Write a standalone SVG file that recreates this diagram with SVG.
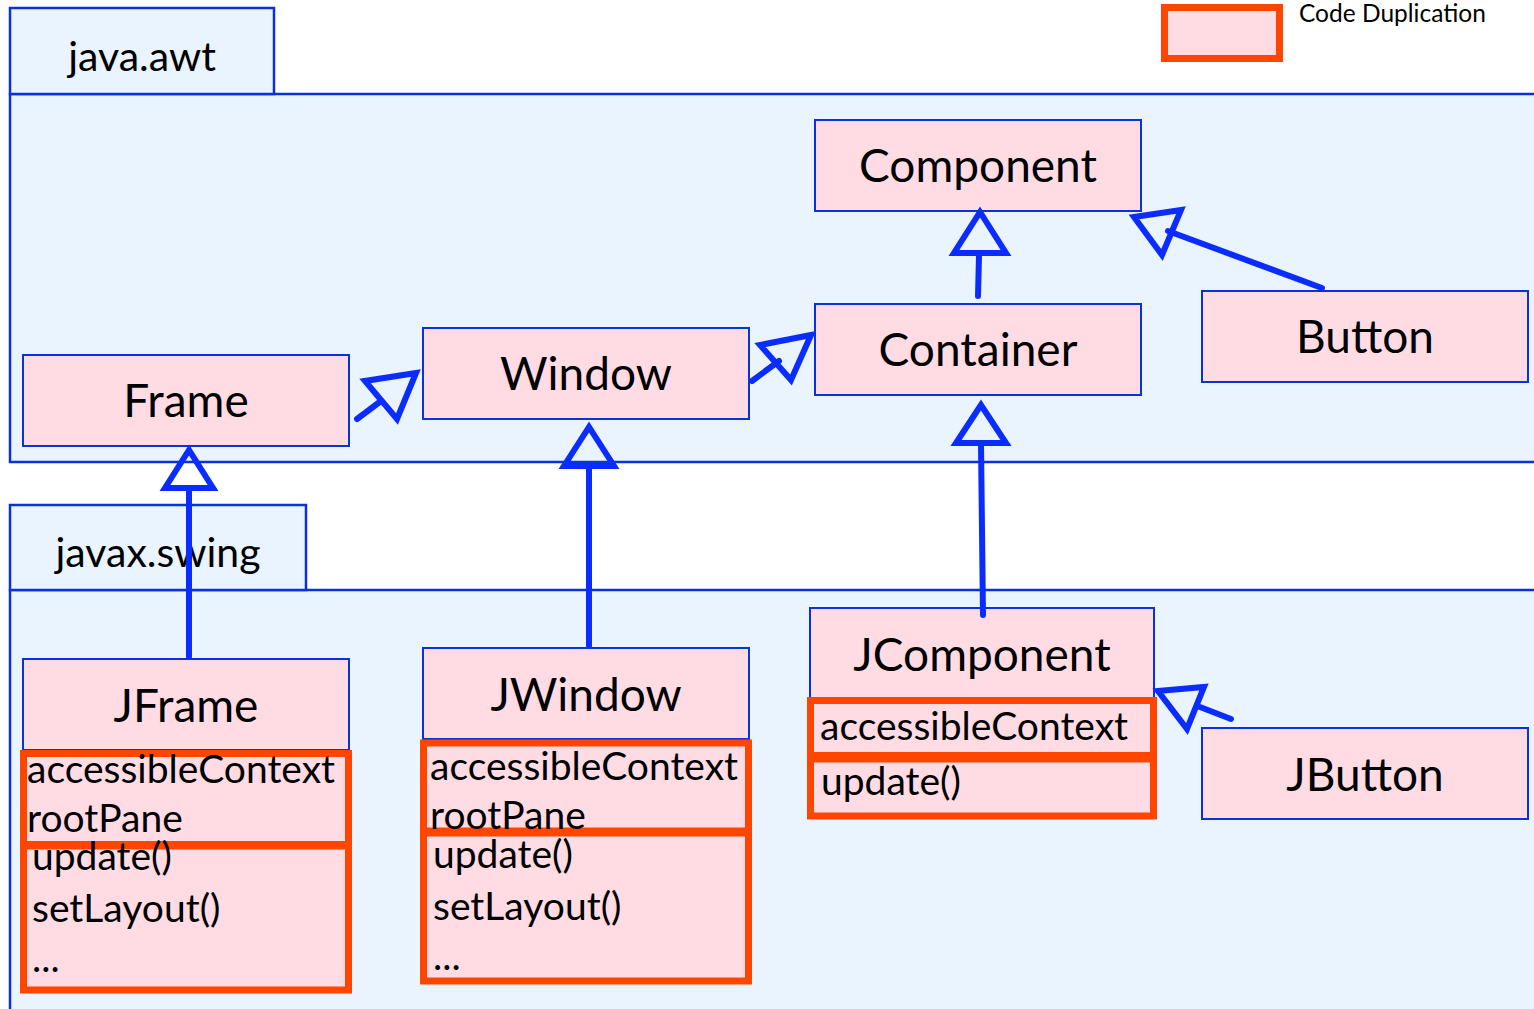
<svg xmlns="http://www.w3.org/2000/svg" width="1534" height="1009" viewBox="0 0 1534 1009">
<style>
.pkg{fill:#e9f4fe;stroke:#0a32d6;stroke-width:2.5}
.cls{fill:#ffdce3;stroke:#0a32d6;stroke-width:2}
.dup{fill:#ffdce3;stroke:#ff4600;stroke-width:7}
.t{font-family:Lato,"Open Sans",sans-serif;fill:#000}
.cn{font-size:46px;text-anchor:middle}
.pn{font-size:41px;text-anchor:middle}
.at{font-size:39px}
.conn line{stroke:#0a2cff;stroke-width:6;stroke-linecap:round}
.conn polygon{fill:none;stroke:#0a2cff;stroke-width:6}
</style>
<rect x="0" y="0" width="1534" height="1009" fill="#fff"/>
<g id="pkg-awt">
<rect class="pkg" x="10" y="94" width="1530" height="368"/>
<rect class="pkg" x="10" y="8" width="264" height="86"/>
<text class="t pn" x="142" y="71">java.awt</text>
</g>
<g id="pkg-swing">
<rect class="pkg" x="10" y="590" width="1530" height="430"/>
<rect class="pkg" x="10" y="505" width="296" height="85"/>
<text class="t pn" x="158" y="567">javax.swing</text>
</g>
<g id="legend">
<rect class="dup" x="1164.5" y="7.5" width="115" height="51"/>
<text class="t" x="1299" y="22" font-size="24.5">Code Duplication</text>
</g>
<g id="Component">
<rect class="cls" x="815" y="120" width="326" height="91"/>
<text class="t cn" x="978" y="182">Component</text>
</g>
<g id="Container">
<rect class="cls" x="815" y="304" width="326" height="91"/>
<text class="t cn" x="978" y="366">Container</text>
</g>
<g id="Button">
<rect class="cls" x="1202" y="291" width="326" height="91"/>
<text class="t cn" x="1365" y="353">Button</text>
</g>
<g id="Frame">
<rect class="cls" x="23" y="355" width="326" height="91"/>
<text class="t cn" x="186" y="417">Frame</text>
</g>
<g id="Window">
<rect class="cls" x="423" y="328" width="326" height="91"/>
<text class="t cn" x="586" y="390">Window</text>
</g>
<g id="JFrame">
<rect class="cls" x="23" y="659" width="326" height="91"/>
<text class="t cn" x="186" y="722">JFrame</text>
<rect class="dup" x="23.5" y="753.5" width="325" height="91"/>
<rect class="dup" x="23.5" y="846" width="325" height="144"/>
<text class="t at" x="27" y="783">accessibleContext</text>
<text class="t at" x="27" y="832">rootPane</text>
<text class="t at" x="32" y="870">update()</text>
<text class="t at" x="32" y="922">setLayout()</text>
<text class="t at" x="32" y="972">...</text>
</g>
<g id="JWindow">
<rect class="cls" x="423" y="648" width="326" height="91"/>
<text class="t cn" x="586" y="711">JWindow</text>
<rect class="dup" x="423.5" y="743" width="325" height="88"/>
<rect class="dup" x="423.5" y="833" width="325" height="148"/>
<text class="t at" x="430" y="780">accessibleContext</text>
<text class="t at" x="430" y="829">rootPane</text>
<text class="t at" x="433" y="868">update()</text>
<text class="t at" x="433" y="920">setLayout()</text>
<text class="t at" x="433" y="970">...</text>
</g>
<g id="JComponent">
<rect class="cls" x="810" y="608" width="344" height="91"/>
<text class="t cn" x="982" y="671">JComponent</text>
<rect class="dup" x="810.5" y="700.5" width="343" height="55"/>
<rect class="dup" x="810.5" y="759" width="343" height="57"/>
<text class="t at" x="820" y="740">accessibleContext</text>
<text class="t at" x="821" y="795">update()</text>
</g>
<g id="JButton">
<rect class="cls" x="1202" y="728" width="326" height="91"/>
<text class="t cn" x="1365" y="791">JButton</text>
</g>
<g id="connectors" class="conn">
<line x1="978" y1="296" x2="979" y2="256"/>
<polygon points="980,212 954,253 1006,253"/>
<line x1="1322" y1="288" x2="1168" y2="231"/>
<polygon points="1134,217 1181,210 1162,255"/>
<line x1="752" y1="381" x2="779" y2="361"/>
<polygon points="811,335 760,345 791,380"/>
<line x1="357" y1="419" x2="381" y2="401"/>
<polygon points="416,373 365,381 397,419"/>
<line x1="189" y1="657" x2="189" y2="489"/>
<polygon points="189,450 165,488 213,488"/>
<line x1="589" y1="646" x2="589" y2="467"/>
<polygon points="589,427 564,466 614,466"/>
<line x1="983" y1="615" x2="981" y2="445"/>
<polygon points="981,405 956,443 1006,443"/>
<line x1="1231" y1="719" x2="1200" y2="707"/>
<polygon points="1158,691 1204,687 1187,729"/>
</g>
</svg>
